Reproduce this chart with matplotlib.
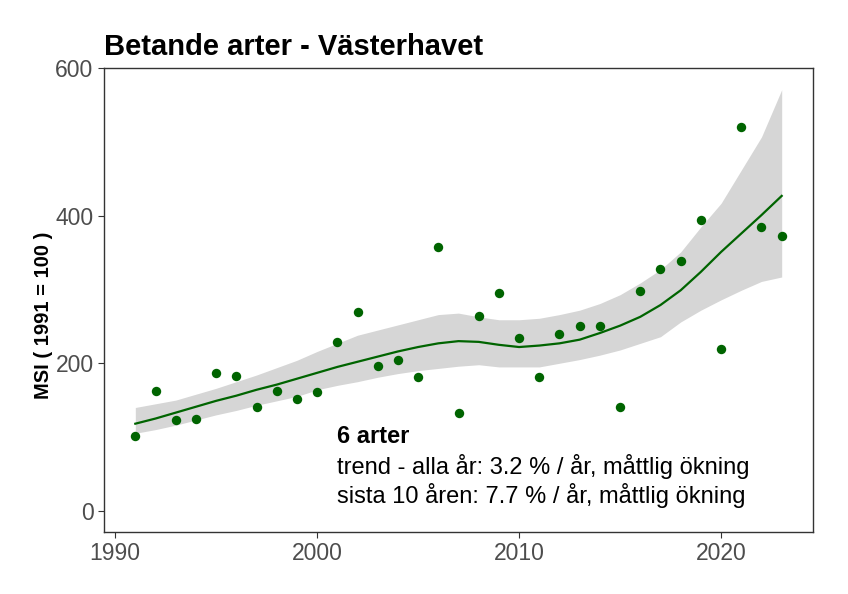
import numpy as np
import matplotlib
matplotlib.use("Agg")
import matplotlib.pyplot as plt

plt.rcParams['font.family'] = ['Liberation Sans', 'DejaVu Sans']

# observed index per year
years = list(range(1991, 2024))
msi = [101, 163, 123, 125, 187, 183, 140, 163, 152, 161,
       229, 270, 196, 204, 182, 358, 132, 264, 295, 234,
       182, 240, 250, 250, 141, 298, 328, 339, 394, 220,
       520, 385, 373]

# smoothed trend and its confidence band
trend = [118, 125, 133, 141, 149, 156, 164, 171, 179, 187,
         195, 202, 209, 216, 222, 227, 230, 229, 225, 222,
         224, 227, 232, 241, 251, 263, 279, 299, 324, 351,
         376, 401, 427]
band_hi = [140, 145, 150, 158, 166, 175, 184, 194, 204, 216,
           227, 238, 245, 252, 259, 266, 268, 263, 259, 259,
           261, 266, 272, 281, 293, 309, 327, 351, 385, 417,
           462, 507, 571]
band_lo = [105, 110, 116, 123, 130, 136, 143, 149, 155, 164,
           170, 175, 181, 186, 190, 193, 196, 198, 195, 195,
           195, 200, 205, 211, 218, 227, 236, 256, 272, 286,
           299, 311, 317]

title = "Betande arter - Västerhavet"
ylabel = "MSI ( 1991 = 100 )"
note_head = "6 arter"
note_lines = ["trend - alla år: 3.2 % / år, måttlig ökning",
              "sista 10 åren: 7.7 % / år, måttlig ökning"]

green = "#006400"
tick_grey = "#4D4D4D"

fig = plt.figure(figsize=(8.48, 5.94), dpi=100)
ax = fig.add_axes([104 / 848, 1 - 531.7 / 594, (813 - 104) / 848, (531.7 - 68) / 594])

ax.fill_between(years, band_lo, band_hi, color="#D6D6D6", linewidth=0, zorder=1)
ax.plot(years, trend, color=green, linewidth=1.6, zorder=2)
ax.scatter(years, msi, s=46, color=green, zorder=3, linewidths=0)

ax.text(2001, 100, note_head, fontsize=17, fontweight="bold", va="center", ha="left")
ax.text(2001, 60, note_lines[0], fontsize=17, va="center", ha="left")
ax.text(2001, 20, note_lines[1], fontsize=17, va="center", ha="left")

ax.set_xlim(1989.45, 2024.55)
ax.set_ylim(-28.5, 600.5)
ax.set_xticks([1990, 2000, 2010, 2020])
ax.set_yticks([0, 200, 400, 600])
ax.tick_params(axis="both", colors="#333333", labelcolor=tick_grey,
               labelsize=16.5, length=4, width=0.8, direction="out")
for s in ax.spines.values():
    s.set_color("#333333")
    s.set_linewidth(1.0)

fig.text(104 / 848, 1 - 55 / 594, title, fontsize=21, fontweight="bold",
         ha="left", va="baseline")
fig.text(44 / 848, 1 - 315 / 594, ylabel, fontsize=14.5, fontweight="bold",
         rotation=90, ha="center", va="center")

fig.savefig("out.png", dpi=100)
